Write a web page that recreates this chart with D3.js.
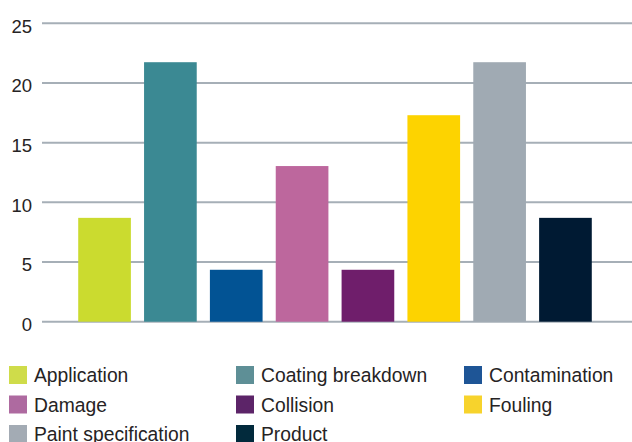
<!DOCTYPE html>
<html>
<head>
<meta charset="utf-8">
<script src="https://cdn.jsdelivr.net/npm/d3@7"></script>
<style>
  html, body { margin: 0; padding: 0; background: #fff; }
  svg { display: block; }
  text { font-family: "Liberation Sans", Arial, Helvetica, sans-serif; fill: #262324; }
</style>
</head>
<body>
<svg id="chart" width="632" height="442"></svg>
<script>
const categories = ["Application", "Coating breakdown", "Contamination", "Damage", "Collision", "Fouling", "Paint specification", "Product"];
const values = [8.7, 21.74, 4.35, 13.04, 4.35, 17.3, 21.74, 8.7];
const yTicks = [0, 5, 10, 15, 20, 25];
const barColors = ["#cbdb2f", "#3b8993", "#025394", "#bd679d", "#6f1e6b", "#fdd300", "#a0aab3", "#001a33"];
const legendColors = ["#cfdc4a", "#5e8f96", "#1e5596", "#ae6aa0", "#5c2468", "#f7d32c", "#a3abb4", "#022a3c"];

const svg = d3.select("#chart");

const y = d3.scaleLinear().domain([0, 25]).range([321.7, 23.3]);
const x = d3.scaleBand().domain(categories).range([42, 628]).paddingInner(0.2).paddingOuter(0.55);

// gridlines
const grid = svg.append("g");
grid.selectAll("line").data(yTicks).enter().append("line")
  .attr("x1", 42).attr("x2", 632)
  .attr("y1", d => y(d)).attr("y2", d => y(d))
  .attr("stroke", "#a6afb7").attr("stroke-width", 2);

// y axis labels
const yAxis = d3.axisLeft(y).tickValues(yTicks).tickSize(0).tickPadding(0).tickFormat(d3.format("d"));
const ga = svg.append("g").attr("transform", "translate(32,3)").call(yAxis);
ga.select(".domain").remove();
ga.selectAll("text").attr("font-size", 18.5).attr("fill", "#262324")
  .style("font-family", "'Liberation Sans', Arial, sans-serif");

// bars
svg.append("g").selectAll("rect").data(values).enter().append("rect")
  .attr("x", (d, i) => x(categories[i]))
  .attr("width", x.bandwidth())
  .attr("y", d => y(d))
  .attr("height", d => y(0) - y(d))
  .attr("fill", (d, i) => barColors[i]);

// legend
const colX = [9, 236, 464];
const rowY = [366, 395.5, 425];
const leg = svg.append("g").selectAll("g").data(categories).enter().append("g")
  .attr("transform", (d, i) => `translate(${colX[i % 3]},${rowY[Math.floor(i / 3)]})`);
leg.append("rect").attr("width", 18).attr("height", 18).attr("fill", (d, i) => legendColors[i]);
leg.append("text").attr("x", 25).attr("y", 16).attr("font-size", 19.3).text(d => d);
</script>
</body>
</html>
